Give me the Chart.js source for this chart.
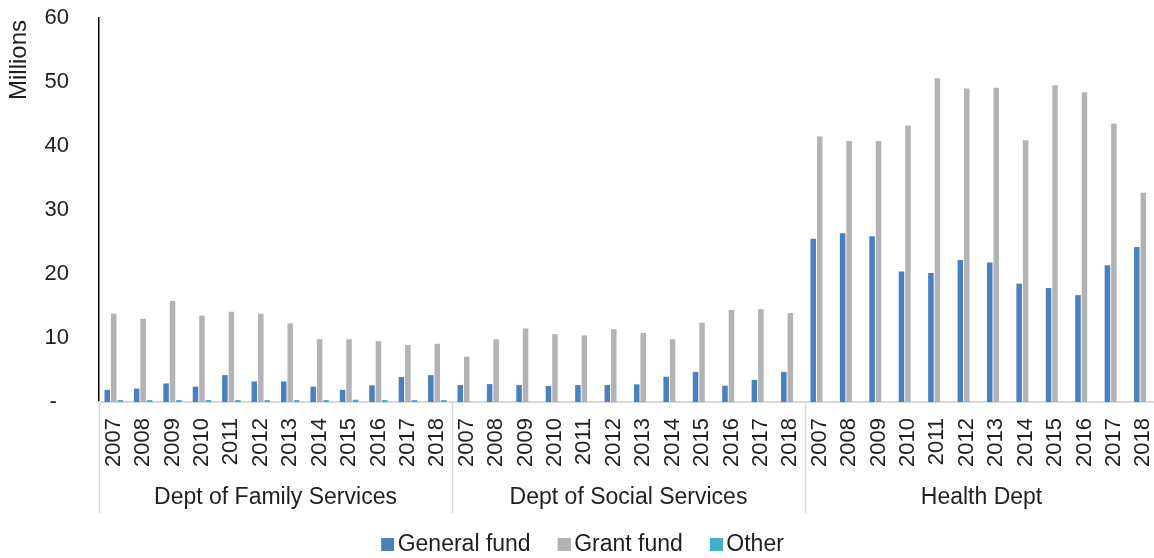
<!DOCTYPE html>
<html>
<head>
<meta charset="utf-8">
<script src="https://cdn.jsdelivr.net/npm/chart.js@4/dist/chart.umd.min.js"></script>
<style>
  html, body { margin: 0; padding: 0; background: #ffffff; overflow: hidden; }
  #wrap { position: relative; width: 1160px; height: 566px; }
</style>
</head>
<body>
<div id="wrap"><canvas id="c"></canvas></div>
<script>
// Funding by department and year, in millions
const departments = ['Dept of Family Services', 'Dept of Social Services', 'Health Dept'];
const years = ['2007', '2008', '2009', '2010', '2011', '2012', '2013', '2014', '2015', '2016', '2017', '2018'];

const generalFund = [
  1.9, 2.1, 2.9, 2.4, 4.2, 3.2, 3.2, 2.4, 1.9, 2.6, 3.9, 4.2,
  2.65, 2.8, 2.65, 2.5, 2.65, 2.65, 2.75, 3.95, 4.7, 2.55, 3.45, 4.7,
  25.5, 26.35, 25.9, 20.4, 20.15, 22.2, 21.8, 18.5, 17.8, 16.7, 21.35, 24.2
];
const grantFund = [
  13.8, 13.0, 15.8, 13.5, 14.1, 13.8, 12.3, 9.8, 9.8, 9.5, 8.9, 9.1,
  7.1, 9.8, 11.5, 10.6, 10.4, 11.4, 10.8, 9.8, 12.4, 14.4, 14.5, 13.9,
  41.5, 40.8, 40.8, 43.2, 50.6, 49.0, 49.1, 40.9, 49.5, 48.4, 43.5, 32.7
];
const other = [
  0.3, 0.3, 0.3, 0.3, 0.3, 0.3, 0.3, 0.3, 0.35, 0.3, 0.3, 0.3,
  0, 0, 0, 0, 0, 0, 0, 0, 0, 0, 0, 0,
  0, 0, 0, 0, 0, 0, 0, 0, 0, 0, 0, 0
];
const yTicks = [0, 10, 20, 30, 40, 50, 60];

const FONT = 'Liberation Sans, Arial, sans-serif';
const TEXT = '#1f1f1f';
const COLORS = ['#4a7fc0', '#b2b3b7', '#3fb0cb'];
const categories = departments.flatMap(() => years);

const PLOT_BOTTOM = 402;
const YEAR_AXIS_HEIGHT = 70;

// Legend swatch: a 13px square at the right end of a wider transparent tile
function swatch(color) {
  const c = document.createElement('canvas');
  c.width = 28;
  c.height = 13;
  const g = c.getContext('2d');
  g.fillStyle = color;
  g.fillRect(15, 0, 13, 13);
  return c;
}

// Group dividers under the year axis and the "Millions" unit label
const extras = {
  id: 'extras',
  afterDraw(chart) {
    const ctx = chart.ctx;
    const xs = chart.scales.x;
    const n = categories.length;
    ctx.save();
    ctx.strokeStyle = '#d9d9d9';
    ctx.lineWidth = 1.5;
    for (let g = 0; g <= departments.length; g++) {
      const px = Math.round(xs.left + xs.width * (g * years.length) / n) + 0.5;
      ctx.beginPath();
      ctx.moveTo(px, chart.chartArea.bottom);
      ctx.lineTo(px, chart.chartArea.bottom + 111);
      ctx.stroke();
    }
    ctx.restore();

    ctx.save();
    ctx.translate(19, 60);
    ctx.rotate(-Math.PI / 2);
    ctx.font = '24px ' + FONT;
    ctx.fillStyle = TEXT;
    ctx.textAlign = 'center';
    ctx.textBaseline = 'middle';
    ctx.fillText('Millions', 0, 0);
    ctx.restore();
  }
};

function noPadding(scale) {
  scale.paddingTop = 0;
  scale.paddingBottom = 0;
  scale.paddingLeft = 0;
  scale.paddingRight = 0;
}

new Chart(document.getElementById('c'), {
  type: 'bar',
  data: {
    labels: categories,
    datasets: [
      { label: 'General fund', data: generalFund, backgroundColor: COLORS[0] },
      { label: 'Grant fund', data: grantFund, backgroundColor: COLORS[1] },
      { label: 'Other', data: other, backgroundColor: COLORS[2] }
    ]
  },
  options: {
    responsive: true,
    maintainAspectRatio: false,
    animation: false,
    layout: { padding: { top: 18, left: 0, right: 2, bottom: 0 } },
    datasets: { bar: { barPercentage: 0.85, categoryPercentage: 0.66 } },
    plugins: {
      tooltip: { enabled: false },
      legend: {
        position: 'bottom',
        labels: {
          font: { family: FONT, size: 23 },
          color: TEXT,
          usePointStyle: true,
          boxWidth: 12,
          boxHeight: 13,
          padding: 20,
          generateLabels(chart) {
            return chart.data.datasets.map((ds, i) => ({
              text: ds.label,
              fillStyle: COLORS[i],
              strokeStyle: COLORS[i],
              lineWidth: 0,
              pointStyle: swatch(COLORS[i]),
              hidden: false,
              datasetIndex: i,
              fontColor: TEXT
            }));
          }
        }
      }
    },
    scales: {
      y: {
        min: 0,
        max: 60,
        afterBuildTicks(scale) { scale.ticks = yTicks.map(v => ({ value: v })); },
        afterFit(scale) { scale.width = 99; noPadding(scale); },
        grid: { display: false, drawTicks: false },
        border: { display: true, color: '#000000', width: 1.5 },
        ticks: {
          padding: 30,
          color: TEXT,
          font: { family: FONT, size: 22 },
          callback: v => (v === 0 ? '-  ' : String(v))
        }
      },
      x: {
        weight: 0,
        afterFit(scale) { scale.height = YEAR_AXIS_HEIGHT; noPadding(scale); },
        grid: { display: false, drawTicks: false },
        border: { display: true, color: '#d9d9d9', width: 2 },
        ticks: {
          autoSkip: false,
          minRotation: 90,
          maxRotation: 90,
          padding: 16,
          color: TEXT,
          font: { family: FONT, size: 22 }
        }
      },
      x2: {
        type: 'category',
        labels: departments,
        position: 'bottom',
        weight: 1,
        offset: true,
        afterFit(scale) {
          const legendH = scale.chart.legend ? scale.chart.legend.height : 0;
          scale.height = Math.max(0, scale.chart.height - legendH - PLOT_BOTTOM - YEAR_AXIS_HEIGHT);
          noPadding(scale);
        },
        grid: { display: false, drawTicks: false },
        border: { display: false },
        ticks: {
          padding: 12,
          color: TEXT,
          font: { family: FONT, size: 23 }
        }
      }
    }
  },
  plugins: [extras]
});
</script>
</body>
</html>
